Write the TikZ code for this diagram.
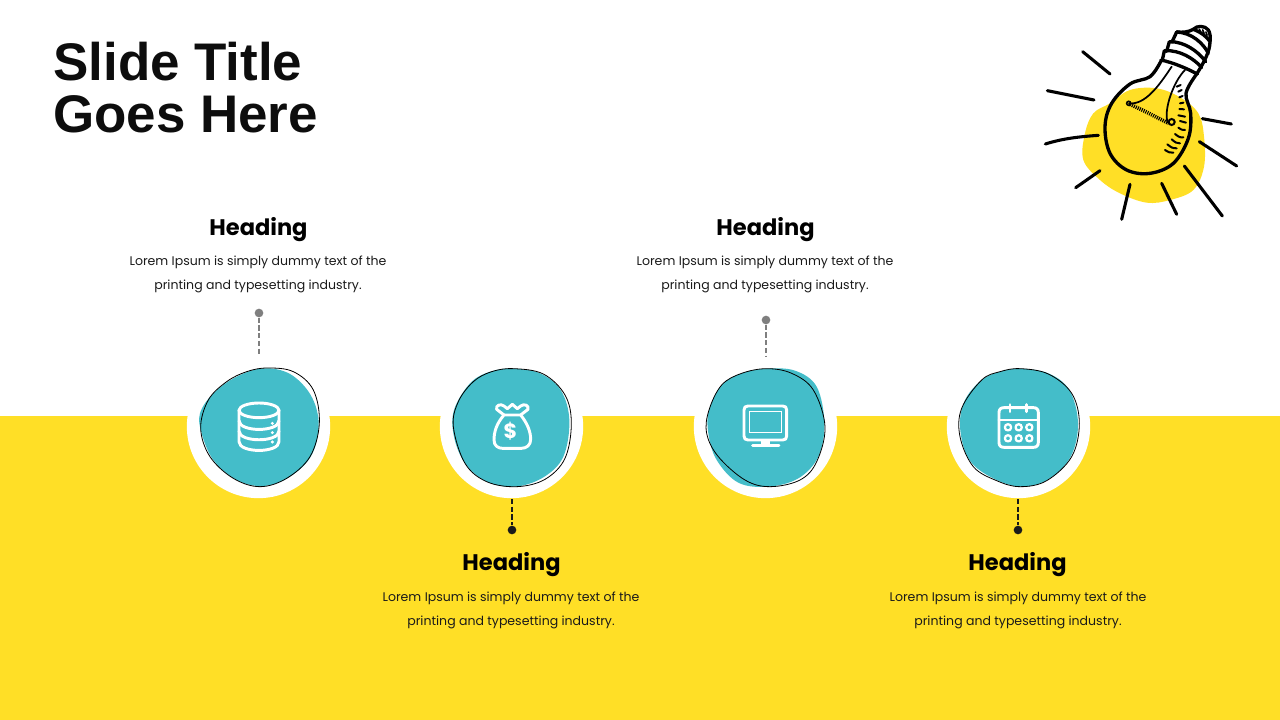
\documentclass[tikz,border=0pt]{standalone}
\usepackage{fontspec}
\setmainfont{Poppins}
\newfontfamily\titlefont{Liberation Sans}
\definecolor{sun}{HTML}{FFDF26}
\definecolor{teal}{HTML}{44BDC9}
\definecolor{ink}{HTML}{1A1A1A}
\definecolor{stem}{HTML}{7F7F7F}
\tikzset{
 headtext/.style={font=\fontsize{16.9pt}{20pt}\selectfont\bfseries,text=black,inner sep=0pt},
 bodytext/.style={font=\fontsize{9.4pt}{18pt}\selectfont,text=ink,align=center,inner sep=0pt},
 halo/.style={circle,fill=white,minimum size=107.5pt,inner sep=0pt},
 topdot/.style={circle,fill=stem,minimum size=6.5pt,inner sep=0pt},
 lowdot/.style={circle,fill=ink,minimum size=6.5pt,inner sep=0pt},
 topdash/.style={draw=stem,line width=1.3pt,dash pattern=on 4pt off 1.8pt},
 lowdash/.style={draw=ink,line width=1.3pt,dash pattern=on 4pt off 1.8pt},
 zoomed/.style={x=.25pt,y=-.25pt},
 icon/.style={draw=white,line width=2.2pt,line join=round,line cap=round},
 rim/.style={draw=black,line width=.6pt},
 ray/.style={draw=black,line width=2.3pt,line cap=round},
 bulb/.style={draw=black,line width=2.5pt,line cap=round,line join=round},
 wire/.style={draw=black,line width=1.3pt,line cap=round},
}
\begin{document}
\begin{tikzpicture}[x=.75pt,y=-.75pt]
\useasboundingbox (0,0) rectangle (1280,720);
\fill[white] (0,0) rectangle (1280,720);
\fill[sun] (0,416) rectangle (1280,720);
% title
\node[anchor=west,inner sep=0pt,align=left,font=\fontsize{39.7pt}{39pt}\selectfont\titlefont\bfseries,text=black!95] (title) at (53,88) {Slide Title\\Goes Here};
% halos
\node[halo] (h1) at (258.5,426.5) {};
\node[halo] (h2) at (511.5,426.5) {};
\node[halo] (h3) at (765.5,426.5) {};
\node[halo] (h4) at (1018.5,426.5) {};
% blob 1
\begin{scope}[shift={(180,300)},zoomed]
\fill[teal] plot[smooth cycle,tension=.6] coordinates {(250,205)(330,222)(392,285)(416,370)(395,465)(330,530)(250,558)(170,540)(100,480)(65,400)(60,340)(100,280)(170,230)};
\draw[rim] plot[smooth cycle,tension=.6] coordinates {(262,204)(340,215)(400,270)(418,370)(390,470)(320,535)(240,560)(160,535)(90,470)(62,385)(85,300)(140,245)(200,215)};
% database
\draw[icon] (237,331) ellipse (60 and 22);
\draw[icon] (177,331) -- (177,425) .. controls (177,460) and (297,460) .. (297,425) -- (297,331);
\draw[icon] (177,362) .. controls (177,397) and (297,397) .. (297,362);
\draw[icon] (177,393) .. controls (177,428) and (297,428) .. (297,393);
\fill[white] (277,370) circle (5) (277,398) circle (5) (277,426) circle (5);
\end{scope}
% blob 2
\begin{scope}[shift={(430,360)},zoomed]
\fill[teal] plot[smooth cycle,tension=.6] coordinates {(250,26)(330,40)(392,90)(418,180)(400,290)(340,352)(255,380)(170,365)(105,310)(72,230)(72,150)(120,70)(180,35)};
\draw[rim] plot[smooth cycle,tension=.6] coordinates {(250,26)(340,42)(405,105)(424,190)(405,295)(345,358)(260,380)(170,365)(105,310)(70,200)(85,125)(130,65)(185,35)};
% bag
\draw[icon] (222,165) .. controls (200,190) and (192,215) .. (192,240) .. controls (192,258) and (205,265) .. (218,265) -- (274,265) .. controls (290,265) and (302,255) .. (302,238) .. controls (302,215) and (292,190) .. (272,165) -- cycle;
\draw[icon] (222,165) -- (200,148) .. controls (196,136) and (212,130) .. (222,138) -- (232,146) -- (247,133) -- (262,146) -- (272,138) .. controls (282,130) and (298,136) .. (294,148) -- (272,165);
\node[font=\fontsize{15.5pt}{16pt}\selectfont\bfseries,text=white,inner sep=0pt] (dollar) at (241,215) {\$};
\end{scope}
% blob 3
\begin{scope}[shift={(685,310)},zoomed]
\fill[teal] plot[smooth cycle,tension=.6] coordinates {(245,176)(330,182)(395,230)(418,340)(400,440)(340,505)(250,530)(160,518)(95,450)(70,370)(72,300)(110,225)(170,190)};
\draw[rim] plot[smooth cycle,tension=.6] coordinates {(245,176)(320,190)(385,240)(420,350)(395,455)(345,510)(255,530)(180,510)(100,440)(65,370)(72,300)(110,225)(170,190)};
% monitor
\draw[icon] (177,300) .. controls (177,292) and (181,288) .. (189,288) -- (293,288) .. controls (301,288) and (305,292) .. (305,300) -- (305,378) .. controls (305,386) and (301,390) .. (293,390) -- (189,390) .. controls (181,390) and (177,386) .. (177,378) -- cycle;
\draw[white,line width=.8pt] (193,305) rectangle (290,367);
\fill[white] (228,390) rectangle (255,404);
\draw[icon] (203,406) -- (282,406);
\end{scope}
% blob 4
\begin{scope}[shift={(940,360)},zoomed]
\fill[teal] plot[smooth cycle,tension=.6] coordinates {(240,26)(325,40)(388,90)(414,190)(392,290)(325,358)(240,380)(150,350)(85,295)(60,200)(75,120)(125,60)(180,35)};
\draw[rim] plot[smooth cycle,tension=.6] coordinates {(240,26)(325,42)(395,100)(418,190)(395,290)(320,362)(240,380)(170,362)(100,320)(60,230)(65,145)(125,60)(180,35)};
% calendar
\draw[icon] (177,158) .. controls (177,148) and (182,143) .. (192,143) -- (280,143) .. controls (290,143) and (295,148) .. (295,158) -- (295,247) .. controls (295,257) and (290,262) .. (280,262) -- (192,262) .. controls (182,262) and (177,257) .. (177,247) -- cycle;
\draw[icon] (177,180) -- (295,180);
\draw[icon] (210,134) -- (210,155) (260,134) -- (260,155);
\foreach \cx in {204,236,268}{\foreach \cy in {202,235}{
 \draw[white,line width=1.7pt,rounded corners=2pt] ({\cx-9},{\cy-9}) rectangle ({\cx+9},{\cy+9});}}
\end{scope}
% connectors
\node[topdot] (d1) at (259,313) {};
\coordinate (e1) at (259,356);
\draw[topdash] (d1) -- (e1);
\node[topdot] (d3) at (766,320) {};
\coordinate (e3) at (766,356);
\draw[topdash] (d3) -- (e3);
\node[lowdot] (d2) at (512,530) {};
\coordinate (e2) at (512,499);
\draw[lowdash] (e2) -- (d2);
\node[lowdot] (d4) at (1018,530) {};
\coordinate (e4) at (1018,499);
\draw[lowdash] (e4) -- (d4);
% texts
\node[headtext] (t1) at (258.5,230) {Heading};
\node[bodytext] (b1) at (258,274) {Lorem Ipsum is simply dummy text of the\\printing and typesetting industry.};
\node[headtext] (t3) at (765.5,230) {Heading};
\node[bodytext] (b3) at (765,274) {Lorem Ipsum is simply dummy text of the\\printing and typesetting industry.};
\node[headtext] (t2) at (511.5,565) {Heading};
\node[bodytext] (b2) at (511,610) {Lorem Ipsum is simply dummy text of the\\printing and typesetting industry.};
\node[headtext] (t4) at (1017.5,565) {Heading};
\node[bodytext] (b4) at (1018,610) {Lorem Ipsum is simply dummy text of the\\printing and typesetting industry.};
% light bulb
\begin{scope}[shift={(1030,10)},zoomed]
\fill[sun] plot[smooth cycle,tension=.6] coordinates {(240,280)(300,240)(380,235)(450,262)(505,310)(522,380)(522,470)(490,540)(420,570)(350,578)(270,550)(210,510)(160,450)(165,370)(190,310)};
\draw[ray] (158,125) -- (240,192);
\draw[ray] (52,242) -- (192,270);
\draw[ray] (46,402) .. controls (100,385) and (150,380) .. (205,376);
\draw[ray] (137,533) -- (210,482);
\draw[ray] (275,628) -- (300,523);
\draw[ray] (395,520) -- (440,613);
\draw[ray] (463,468) -- (577,618);
\draw[ray] (508,395) -- (620,468);
\draw[ray] (517,326) -- (604,342);
\draw[bulb] plot[smooth,tension=.6] coordinates {(500,192)(468,250)(482,310)(475,385)(430,460)(360,490)(290,480)(240,430)(225,350)(245,280)(300,222)(360,200)(393,153)};
% screw base
\draw[bulb] (393,150) .. controls (430,158) and (470,175) .. (502,192);
\draw[bulb] (405,122) .. controls (450,120) and (490,145) .. (515,172);
\draw[bulb] (420,95) .. controls (465,95) and (505,125) .. (527,155);
\draw[bulb] (440,66) .. controls (485,68) and (520,100) .. (535,130);
\draw[bulb] (440,66) -- (426,96) (418,95) -- (410,124) (403,122) -- (397,150);
\draw[bulb] (440,66) .. controls (460,68) and (475,66) .. (490,58) .. controls (515,68) and (530,80) .. (540,95) .. controls (540,125) and (520,160) .. (500,192);
\draw[bulb] (490,58) .. controls (500,46) and (525,46) .. (535,60) .. controls (540,68) and (542,80) .. (540,95);
\draw[wire] (508,58) -- (512,67) (518,60) -- (522,70) (528,66) -- (531,76);
% wires and filament
\draw[wire] (297,280) .. controls (345,285) and (385,230) .. (425,170);
\draw[wire] (413,338) .. controls (400,300) and (430,215) .. (465,180);
\draw[black,line width=1.2pt] (296,280) circle (6);
\draw[black,line width=1.5pt] (425,336) circle (9);
\draw[black,line width=2.8pt,dash pattern=on .8pt off .8pt] (300,283) -- (345,304) -- (380,322) -- (416,340);
\foreach \ax/\ay/\cx/\cy/\bx/\by in {405/420/418/428/430/428,412/403/426/414/440/415,425/388/438/399/450/400,435/372/448/382/460/382,445/353/456/360/465/360,450/333/460/338/468/338,445/316/456/320/465/320,448/297/456/299/462/298,450/280/456/280/460/278,448/262/454/261/458/258,445/245/451/244/455/240,440/230/447/229/452/225}{
 \draw[black,line width=1.5pt,line cap=round] (\ax,\ay) .. controls (\cx,\cy) .. (\bx,\by);}
\end{scope}
\end{tikzpicture}
\end{document}
